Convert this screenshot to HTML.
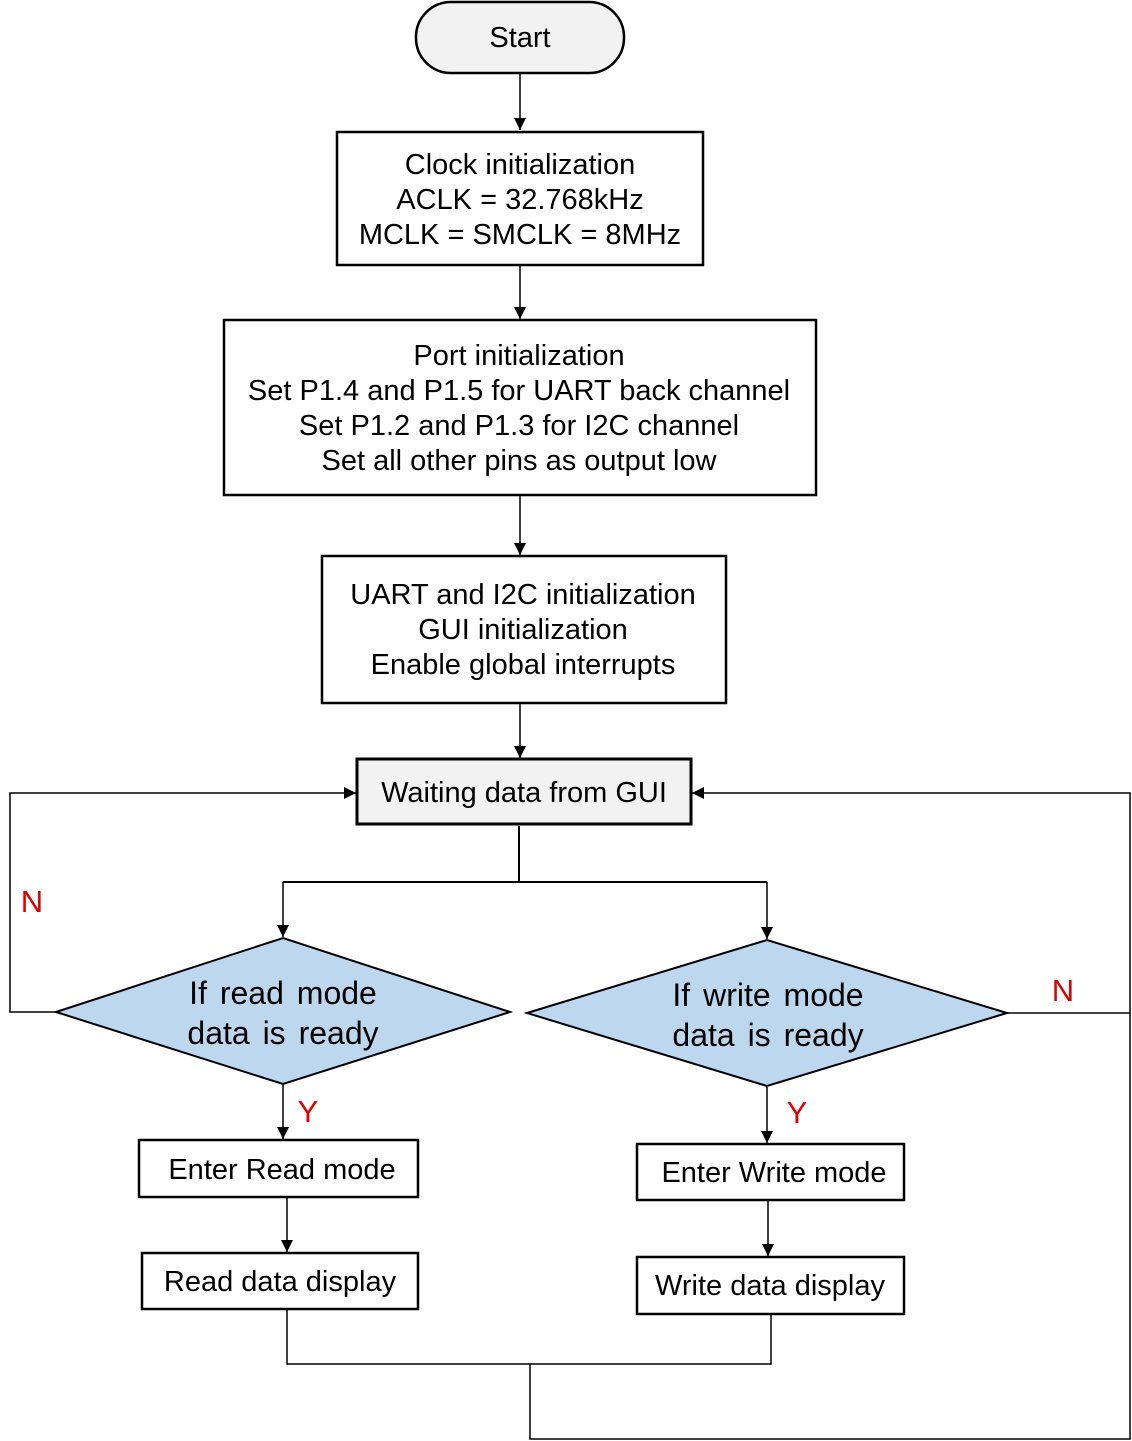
<!DOCTYPE html>
<html><head><meta charset="utf-8"><style>html,body{margin:0;padding:0;background:#fff}svg{display:block}text{font-family:"Liberation Sans",Arial,sans-serif}</style></head>
<body>
<svg width="1132" height="1441" viewBox="0 0 1132 1441" xmlns="http://www.w3.org/2000/svg">
<defs><marker id="a" viewBox="0 0 10 10" refX="10" refY="5" markerWidth="12" markerHeight="12" markerUnits="userSpaceOnUse" orient="auto"><path d="M0,0L10,5L0,10z" fill="#000"/></marker></defs>
<g fill="none" stroke="#000" stroke-width="2.5">
<rect x="416" y="2" width="208" height="71" rx="35" fill="#f2f2f2"/>
<rect x="337" y="132" width="366" height="133" fill="#fff"/>
<rect x="224" y="320" width="592" height="175" fill="#fff"/>
<rect x="322" y="556" width="404" height="147" fill="#fff"/>
<rect x="357" y="759" width="334" height="65" fill="#f2f2f2" stroke-width="3"/>
<polygon points="56,1012 283,938 510,1012 283,1084" fill="#bdd7ee" stroke-width="2"/>
<polygon points="527,1013 767,940 1007,1013 767,1086" fill="#bdd7ee" stroke-width="2"/>
<rect x="139" y="1140" width="279" height="57" fill="#fff"/>
<rect x="142" y="1253" width="276" height="56" fill="#fff"/>
<rect x="637" y="1144" width="267" height="56" fill="#fff"/>
<rect x="637" y="1257" width="267" height="57" fill="#fff"/>
</g>
<g fill="none" stroke="#000" stroke-width="1.5">
<line x1="520" y1="73" x2="520" y2="130" marker-end="url(#a)"/>
<line x1="520" y1="265" x2="520" y2="319" marker-end="url(#a)"/>
<line x1="520" y1="495" x2="520" y2="555" marker-end="url(#a)"/>
<line x1="520" y1="703" x2="520" y2="758" marker-end="url(#a)"/>
<polyline points="519,826 519,882" stroke-width="2"/>
<line x1="283" y1="882" x2="767" y2="882" stroke-width="2"/>
<line x1="283" y1="882" x2="283" y2="937" marker-end="url(#a)"/>
<line x1="767" y1="882" x2="767" y2="939" marker-end="url(#a)"/>
<polyline points="56,1012 10,1012 10,793 356,793" marker-end="url(#a)"/>
<polyline points="1007,1013 1130,1013 1130,793 692,793" marker-end="url(#a)"/>
<polyline points="530,1364 530,1439 1130,1439 1130,1013"/>
<line x1="283" y1="1084" x2="283" y2="1139" marker-end="url(#a)"/>
<line x1="767" y1="1086" x2="767" y2="1143" marker-end="url(#a)"/>
<line x1="287" y1="1197" x2="287" y2="1252" marker-end="url(#a)"/>
<line x1="768" y1="1200" x2="768" y2="1256" marker-end="url(#a)"/>
<polyline points="287,1309 287,1364 771,1364 771,1314"/>
</g>
<g font-size="29" text-anchor="middle" fill="#000">
<text x="520" y="47">Start</text>
<text x="520" y="174">Clock initialization</text>
<text x="520" y="209">ACLK = 32.768kHz</text>
<text x="520" y="244">MCLK = SMCLK = 8MHz</text>
<text x="519" y="365">Port initialization</text>
<text x="519" y="400">Set P1.4 and P1.5 for UART back channel</text>
<text x="519" y="435">Set P1.2 and P1.3 for I2C channel</text>
<text x="519" y="470">Set all other pins as output low</text>
<text x="523" y="604">UART and I2C initialization</text>
<text x="523" y="639">GUI initialization</text>
<text x="523" y="674">Enable global interrupts</text>
<text x="524" y="802">Waiting data from GUI</text>
<text x="283" y="1004" font-size="32" word-spacing="4">If read mode</text>
<text x="283" y="1044" font-size="32" word-spacing="4">data is ready</text>
<text x="768" y="1006" font-size="32" word-spacing="4">If write mode</text>
<text x="768" y="1046" font-size="32" word-spacing="4">data is ready</text>
<text x="282" y="1179">Enter Read mode</text>
<text x="280" y="1291">Read data display</text>
<text x="774" y="1182">Enter Write mode</text>
<text x="770" y="1295">Write data display</text>
</g>
<g font-size="31" fill="#e00000" text-anchor="middle">
<text x="32" y="912">N</text>
<text x="1063" y="1001">N</text>
<text x="308" y="1122">Y</text>
<text x="797" y="1123">Y</text>
</g>
</svg>
</body></html>
